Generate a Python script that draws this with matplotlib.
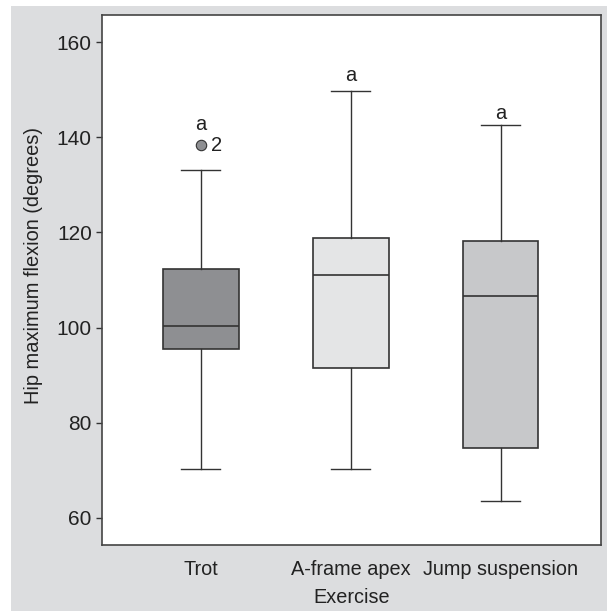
import matplotlib
matplotlib.use("Agg")
import matplotlib.pyplot as plt
from matplotlib.patches import Rectangle

categories = ["Trot", "A-frame apex", "Jump suspension"]
whisker_low = [70.2, 70.2, 63.6]
q1 = [95.4, 91.6, 74.6]
median = [100.3, 111.1, 106.6]
q3 = [112.4, 118.9, 118.1]
whisker_high = [133.1, 149.7, 142.5]
outliers = [[138.3], [], []]
outlier_labels = [["2"], [], []]
letters = ["a", "a", "a"]
letter_y = [142.7, 152.9, 145.1]
box_colors = ["#8e8f92", "#e4e5e6", "#c7c8ca"]

plt.rcParams["font.family"] = ["Liberation Sans", "DejaVu Sans"]

fig = plt.figure(figsize=(6.07, 6.11), dpi=100, facecolor="white")
W, H = 607, 611
fig.patches.append(Rectangle((11 / W, 0), 1 - 11 / W, 1 - 6 / H, transform=fig.transFigure,
                             facecolor="#dcdddf", edgecolor="none", zorder=-10))
ax = fig.add_axes([102 / W, 1 - 545 / H, (601 - 102) / W, (545 - 15) / H])
ax.set_facecolor("white")

stats = []
for i, c in enumerate(categories):
    stats.append(dict(label=c, whislo=whisker_low[i], q1=q1[i], med=median[i],
                      q3=q3[i], whishi=whisker_high[i], fliers=[]))
edge = "#333333"
bp = ax.bxp(stats, positions=[1, 2, 3], widths=0.505, patch_artist=True, showfliers=False,
            boxprops=dict(edgecolor=edge, linewidth=1.2),
            medianprops=dict(color=edge, linewidth=1.2),
            whiskerprops=dict(color=edge, linewidth=1.0),
            capprops=dict(color=edge, linewidth=1.0), capwidths=0.26)
for p, col in zip(bp["boxes"], box_colors):
    p.set_facecolor(col)

for i, (ys, labs) in enumerate(zip(outliers, outlier_labels)):
    for yv, lab in zip(ys, labs):
        ax.plot([i + 1], [yv], marker="o", markersize=7.5, markerfacecolor=box_colors[0],
                markeredgecolor=edge, markeredgewidth=0.8, linestyle="none")
        ax.text(i + 1 + 0.07, yv, lab, fontsize=14.5, va="center", ha="left", color="#222222")

for i, (lt, ly) in enumerate(zip(letters, letter_y)):
    ax.text(i + 1, ly, lt, fontsize=14.5, ha="center", va="center", color="#222222")

ax.set_xlim(0.34, 3.67)
ax.set_ylim(54.3, 165.7)
ax.set_yticks([60, 80, 100, 120, 140, 160])
ax.tick_params(axis="y", direction="out", length=4.3, width=1, colors="#333333",
               labelsize=15, labelcolor="#222222", pad=3)
ax.tick_params(axis="x", length=0, labelsize=14.3, labelcolor="#222222", pad=10.5)
ax.set_xticks([1, 2, 3])
ax.set_xticklabels(categories)
for s in ax.spines.values():
    s.set_color("#444444")
    s.set_linewidth(1.2)

ax.set_ylabel("Hip maximum flexion (degrees)", fontsize=14.4, color="#222222")
ax.yaxis.set_label_coords(-0.118, 0.527)
ax.set_xlabel("Exercise", fontsize=14.3, color="#222222")
ax.xaxis.set_label_coords(0.5, -0.099)
ax.xaxis.label.set_va("center")

fig.savefig("out.png", dpi=100, facecolor="white")
